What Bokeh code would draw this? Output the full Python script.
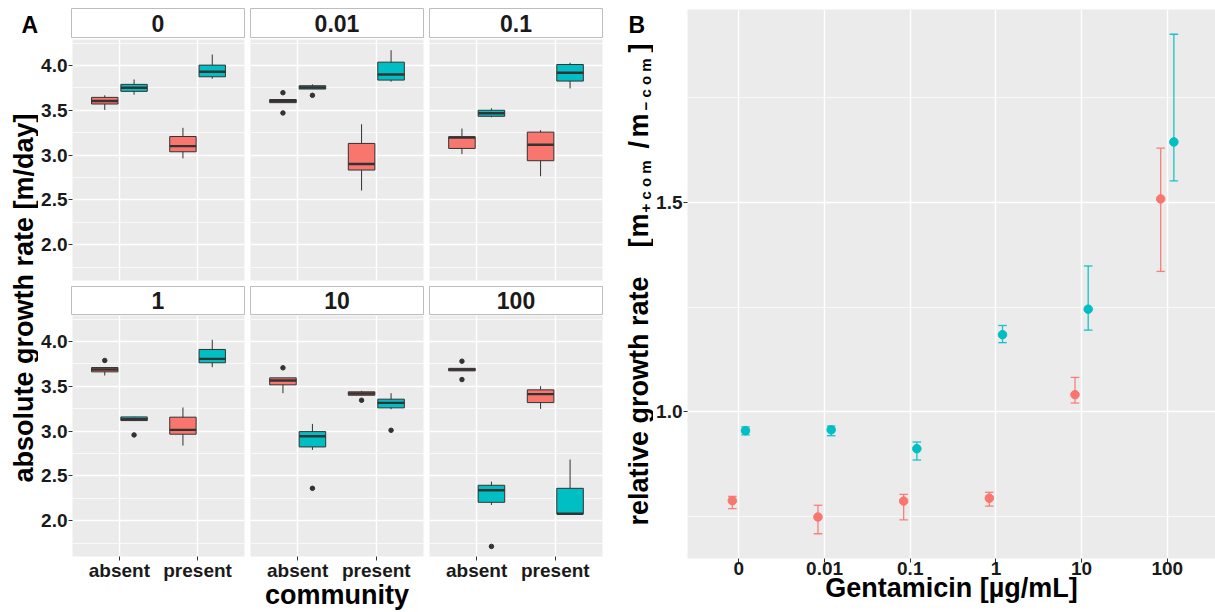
import math
from bokeh.plotting import figure
from bokeh.layouts import row, column
from bokeh.models import (Range1d, FixedTicker, SingleIntervalTicker, ColumnDataSource,
                          PrintfTickFormatter)
from bokeh.core.properties import value
from bokeh.embed import file_html
from bokeh.resources import INLINE

FONT = "Liberation Sans"
RED, BLUE = "#F8766D", "#00BFC4"
DARK = "#333333"
PANEL_BG = "#EBEBEB"
TXT = "#1a1a1a"

# ---------------- data ----------------
conc_levels = ["0", "0.01", "0.1", "1", "10", "100"]
communities = ["absent", "present"]
strains = ["strain 1", "strain 2"]
strain_colors = [RED, BLUE]

# box order: per concentration -> per community -> per strain
box_conc = [c for c in conc_levels for _ in communities for _ in strains]
box_comm = [m for _ in conc_levels for m in communities for _ in strains]
box_strain = [s for _ in conc_levels for _ in communities for s in strains]

whisk_lo = [3.504, 3.674, 2.963, 3.852,
            3.585, 3.737, 2.604, 3.819,
            3.011, 3.422, 2.763, 3.744,
            3.620, 3.117, 2.838, 3.713,
            3.423, 2.790, 3.400, 3.244,
            3.672, 2.175, 3.248, 2.078]
q1 = [3.570, 3.711, 3.037, 3.874,
      3.585, 3.737, 2.833, 3.837,
      3.074, 3.433, 2.937, 3.826,
      3.661, 3.117, 2.965, 3.762,
      3.516, 2.823, 3.400, 3.259,
      3.672, 2.205, 3.318, 2.078]
median = [3.604, 3.752, 3.100, 3.930,
          3.604, 3.755, 2.900, 3.900,
          3.196, 3.467, 3.115, 3.919,
          3.687, 3.132, 3.013, 3.806,
          3.564, 2.942, 3.419, 3.315,
          3.686, 2.339, 3.412, 2.078]
q3 = [3.644, 3.789, 3.207, 4.004,
      3.620, 3.774, 3.130, 4.037,
      3.204, 3.500, 3.256, 4.011,
      3.709, 3.158, 3.155, 3.911,
      3.594, 2.994, 3.438, 3.356,
      3.700, 2.395, 3.460, 2.361]
whisk_hi = [3.667, 3.844, 3.304, 4.122,
            3.620, 3.789, 3.344, 4.170,
            3.296, 3.522, 3.278, 4.030,
            3.715, 3.160, 3.263, 4.019,
            3.594, 3.080, 3.449, 3.423,
            3.700, 2.436, 3.501, 2.682]

out_conc = ["0.01", "0.01", "0.01", "1", "1", "10", "10", "10", "10", "100", "100", "100"]
out_comm = ["absent", "absent", "absent", "absent", "absent", "absent", "absent",
            "present", "present", "absent", "absent", "absent"]
out_strain = ["strain 1", "strain 1", "strain 2", "strain 1", "strain 2", "strain 1", "strain 2",
              "strain 1", "strain 2", "strain 1", "strain 1", "strain 2"]
out_value = [3.696, 3.470, 3.667, 3.788, 2.957, 3.706, 2.361, 3.344, 3.009, 3.780, 3.575, 1.713]

# panel B: relative growth rate, mean and error bar ends
rel_mean_1 = [0.788, 0.749, 0.787, 0.794, 1.041, 1.508]
rel_lo_1 = [0.769, 0.709, 0.742, 0.775, 1.021, 1.335]
rel_hi_1 = [0.798, 0.777, 0.803, 0.808, 1.082, 1.629]
rel_mean_2 = [0.955, 0.957, 0.912, 1.184, 1.245, 1.644]
rel_lo_2 = [0.945, 0.943, 0.885, 1.165, 1.195, 1.551]
rel_hi_2 = [0.964, 0.966, 0.928, 1.206, 1.348, 1.901]

# ---------------- styling helpers ----------------
BOX_DODGE = 0.1875
BOX_W = 0.3375
FRAME_W = 173
FRAME_H = 241
H = 612
B_TOP, B_BOTTOM = 9, 54   # panel B frame borders (label columns share them)


def style_axis(ax, label_standoff, title_standoff=0):
    ax.axis_line_color = None
    ax.major_tick_line_color = DARK
    ax.major_tick_out = 4
    ax.major_tick_in = 0
    ax.minor_tick_line_color = None
    ax.major_label_text_font = FONT
    ax.major_label_text_font_size = "19px"
    ax.major_label_text_font_style = "bold"
    ax.major_label_text_color = TXT
    ax.major_label_standoff = label_standoff
    ax.axis_label_text_font = FONT
    ax.axis_label_text_font_size = "27px"
    ax.axis_label_text_font_style = "bold"
    ax.axis_label_text_color = "black"
    ax.axis_label_standoff = title_standoff


def style_grid(p, xt, yt):
    p.xgrid.ticker = xt
    p.ygrid.ticker = yt
    p.grid.grid_line_color = "white"
    p.grid.grid_line_width = 1.4
    p.ygrid.minor_grid_line_color = "white"
    p.ygrid.minor_grid_line_width = 0.7


def make_facet(k, r, c):
    left = 33 if c == 0 else 3
    top = 1 if r == 0 else 0
    bottom = 4 if r == 0 else 56
    p = figure(width=left + FRAME_W + 3, height=top + FRAME_H + bottom,
               x_range=Range1d(0.4, 2.6), y_range=Range1d(1.60, 4.29),
               toolbar_location=None, output_backend="svg",
               x_axis_location="below" if r == 1 else None,
               y_axis_location="left" if c == 0 else None,
               min_border_left=left, min_border_right=3,
               min_border_top=top, min_border_bottom=bottom,
               background_fill_color=PANEL_BG, border_fill_color="white",
               outline_line_color=None)
    xt = FixedTicker(ticks=[1, 2], minor_ticks=[])
    yt = SingleIntervalTicker(interval=0.5, num_minor_ticks=2)
    style_grid(p, xt, yt)
    if r == 1:
        ax = p.xaxis[0]
        ax.ticker = xt
        ax.major_label_overrides = {1: communities[0], 2: communities[1]}
        style_axis(ax, -1, -4)
        ax.axis_label = "community" if c == 1 else " "
    if c == 0:
        ay = p.yaxis[0]
        ay.ticker = yt
        ay.formatter = PrintfTickFormatter(format="%.1f")
        style_axis(ay, 1)

    conc = conc_levels[k]
    idx = [i for i, cc in enumerate(box_conc) if cc == conc]
    xs = [communities.index(box_comm[i]) + 1 + (-BOX_DODGE if box_strain[i] == strains[0] else BOX_DODGE)
          for i in idx]
    src = ColumnDataSource(dict(
        x=xs,
        x0=[x - BOX_W / 2 for x in xs],
        x1=[x + BOX_W / 2 for x in xs],
        lo=[whisk_lo[i] for i in idx], hi=[whisk_hi[i] for i in idx],
        q1=[q1[i] for i in idx], q3=[q3[i] for i in idx], med=[median[i] for i in idx],
        color=[strain_colors[strains.index(box_strain[i])] for i in idx],
    ))
    p.segment(x0="x", y0="lo", x1="x", y1="hi", source=src, line_color=DARK, line_width=1)
    p.vbar(x="x", width=BOX_W, bottom="q1", top="q3", source=src,
           fill_color="color", line_color=DARK, line_width=1)
    p.segment(x0="x0", y0="med", x1="x1", y1="med", source=src, line_color=DARK, line_width=2.4)

    oidx = [i for i, cc in enumerate(out_conc) if cc == conc]
    if oidx:
        ox = [communities.index(out_comm[i]) + 1 +
              (-BOX_DODGE if out_strain[i] == strains[0] else BOX_DODGE) for i in oidx]
        oy = [out_value[i] for i in oidx]
        p.scatter(ox, oy, size=4.5, fill_color=DARK, line_color=DARK)
    return p


def make_strip(k, c, top, h, bottom):
    left = 33 if c == 0 else 3
    p = figure(width=left + FRAME_W + 3, height=top + h + bottom,
               x_range=Range1d(0, 1), y_range=Range1d(0, 1),
               toolbar_location=None, output_backend="svg",
               x_axis_location=None, y_axis_location=None,
               min_border_left=left, min_border_right=3,
               min_border_top=top, min_border_bottom=bottom,
               background_fill_color="white", border_fill_color="white",
               outline_line_color="#BDBDBD", outline_line_width=1)
    p.grid.visible = False
    p.text(x=[0.5], y=[0.5], text=[conc_levels[k]], text_align="center",
           text_baseline="middle", text_font=value(FONT), text_font_size="23px",
           text_font_style="bold", text_color=TXT)
    return p


def label_fig(w):
    # frame shares panel B's top/bottom borders (row aligns frames);
    # y data = 612 - screen y inside that frame
    p = figure(width=w, height=H, x_range=Range1d(0, w),
               y_range=Range1d(B_BOTTOM, H - B_TOP),
               toolbar_location=None, output_backend="svg",
               x_axis_location=None, y_axis_location=None,
               min_border_left=0, min_border_right=0,
               min_border_top=B_TOP, min_border_bottom=B_BOTTOM,
               background_fill_color="white", border_fill_color="white",
               outline_line_color=None)
    p.grid.visible = False
    return p


# ---------------- panel A ----------------
strips1 = [make_strip(k, k, 8, 29, 1) for k in range(3)]
facets1 = [make_facet(k, 0, k) for k in range(3)]
strips2 = [make_strip(k + 3, k, 2, 28, 1) for k in range(3)]
facets2 = [make_facet(k + 3, 1, k) for k in range(3)]
panelA = column(row(*strips1), row(*facets1), row(*strips2), row(*facets2))

la = label_fig(38)
la.text(x=[21], y=[H - 24], text=["A"], text_align="left", text_baseline="middle",
        text_font=value(FONT), text_font_size="23px", text_font_style="bold", text_color="black")
la.text(x=[23], y=[H - 297.5], text=["absolute growth rate [m/day]"], angle=math.pi / 2,
        text_align="center", text_baseline="middle",
        text_font=value(FONT), text_font_size="27px", text_font_style="bold", text_color="black")

# ---------------- panel B ----------------
LBW = 48
lb = label_fig(LBW)
lb.text(x=[23], y=[H - 24], text=["B"], text_align="left", text_baseline="middle",
        text_font=value(FONT), text_font_size="23px", text_font_style="bold", text_color="black")
title_pieces = ["relative growth rate", "[", "m", "+ c o m", "/", "m", "\u2212 c o m", "]"]
title_start = [525, 247, 237, 212, 148, 137, 110, 52]
title_small = [False, False, False, True, False, False, True, False]
for txt, ys, small in zip(title_pieces, title_start, title_small):
    lb.text(x=[40 if small else 33.5], y=[H - ys], text=[txt], angle=math.pi / 2,
            text_align="left", text_baseline="middle",
            text_font=value(FONT), text_font_size="15px" if small else "27px",
            text_font_style="bold", text_color="black")

pb = figure(width=1215 - 38 - 567 - LBW, height=H,
            x_range=Range1d(0.4, 6.563), y_range=Range1d(0.650, 1.960),
            toolbar_location=None, output_backend="svg",
            min_border_left=32, min_border_right=0, min_border_top=B_TOP, min_border_bottom=B_BOTTOM,
            background_fill_color=PANEL_BG, border_fill_color="white", outline_line_color=None)
xtb = FixedTicker(ticks=[1, 2, 3, 4, 5, 6], minor_ticks=[])
ytb = SingleIntervalTicker(interval=0.5, num_minor_ticks=2)
style_grid(pb, xtb, ytb)
pb.xaxis[0].ticker = xtb
pb.xaxis[0].major_label_overrides = {i + 1: lab for i, lab in enumerate(conc_levels)}
pb.yaxis[0].ticker = ytb
pb.yaxis[0].formatter = PrintfTickFormatter(format="%.1f")
style_axis(pb.xaxis[0], -1, -5)
style_axis(pb.yaxis[0], 1)
pb.xaxis[0].axis_label = "Gentamicin [\u00b5g/mL]"

DODGE_B = 0.077
CAP = 0.05
for means, los, his, col, sgn in [(rel_mean_1, rel_lo_1, rel_hi_1, RED, -1),
                                  (rel_mean_2, rel_lo_2, rel_hi_2, BLUE, 1)]:
    xs = [i + 1 + sgn * DODGE_B for i in range(len(conc_levels))]
    src = ColumnDataSource(dict(x=xs, x0=[x - CAP for x in xs], x1=[x + CAP for x in xs],
                                m=means, lo=los, hi=his))
    pb.segment(x0="x", y0="lo", x1="x", y1="hi", source=src, line_color=col, line_width=1.3, line_alpha=0.9)
    pb.segment(x0="x0", y0="lo", x1="x1", y1="lo", source=src, line_color=col, line_width=1.3, line_alpha=0.9)
    pb.segment(x0="x0", y0="hi", x1="x1", y1="hi", source=src, line_color=col, line_width=1.3, line_alpha=0.9)
    pb.scatter(x="x", y="m", source=src, size=8.5, fill_color=col, line_color=col)

layout = row(la, panelA, lb, pb)
open("out.html", "w").write(file_html(layout, INLINE))
